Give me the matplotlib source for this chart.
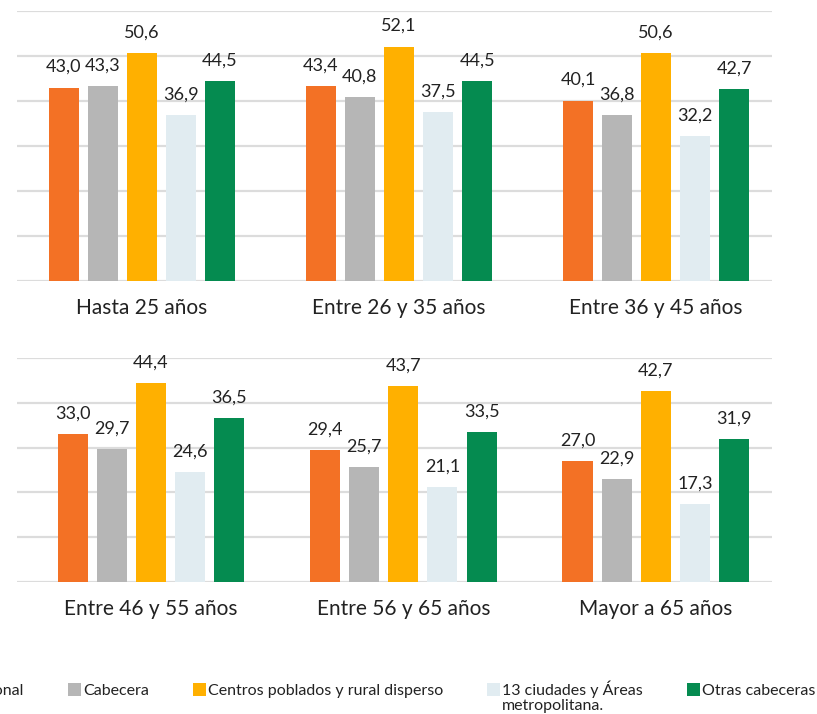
import numpy as np
import matplotlib
matplotlib.use('Agg')
import matplotlib.pyplot as plt

plt.rcParams['font.family'] = ['Lato', 'DejaVu Sans']

# datos
grupos_sup = ['Hasta 25 años', 'Entre 26 y 35 años', 'Entre 36 y 45 años']
grupos_inf = ['Entre 46 y 55 años', 'Entre 56 y 65 años', 'Mayor a 65 años']
series = ['Nacional', 'Cabecera', 'Centros poblados y rural disperso',
          '13 ciudades y Áreas\nmetropolitana.', 'Otras cabeceras']
nacional = [43.0, 43.4, 40.1, 33.0, 29.4, 27.0]
cabecera = [43.3, 40.8, 36.8, 29.7, 25.7, 22.9]
centros = [50.6, 52.1, 50.6, 44.4, 43.7, 42.7]
ciudades = [36.9, 37.5, 32.2, 24.6, 21.1, 17.3]
otras = [44.5, 44.5, 42.7, 36.5, 33.5, 31.9]
colores = ['#F37125', '#B6B6B6', '#FFB000', '#E1ECF1', '#058B50']

valores = [nacional, cabecera, centros, ciudades, otras]

fig = plt.figure(figsize=(8.17, 7.14), dpi=100)
ax1 = fig.add_axes([0.0208, 0.6064, 0.924, 0.3782])
ax2 = fig.add_axes([0.0208, 0.1849, 0.924, 0.3137])

def dibujar(ax, grupos, idx, ymax, xlim, ancho, paso):
    x = np.arange(len(grupos))
    for k, vals in enumerate(valores):
        v = [vals[i] for i in idx]
        xs = x + (k - 2) * paso
        # solo la primera linea del nombre va en la leyenda
        ax.bar(xs, v, width=ancho, color=colores[k], zorder=3,
               label=series[k].split('\n')[0])
        for xi, vi in zip(xs, v):
            ax.annotate(f'{vi:.1f}'.replace('.', ','), (xi, vi), xytext=(0, 9),
                        textcoords='offset points', ha='center', va='bottom',
                        fontsize=13, color='#222222')
    ax.set_ylim(0, ymax)
    ax.set_xlim(*xlim)
    ax.set_yticks(np.arange(0, ymax + 1, 10))
    ax.yaxis.grid(True, color='#dcdcdc', linewidth=1.6, zorder=0)
    ax.set_yticklabels([])
    ax.set_xticks(x)
    ax.set_xticklabels(grupos, fontsize=15, color='#222222')
    ax.tick_params(length=0, pad=12)
    for s in ['top', 'right', 'left', 'bottom']:
        ax.spines[s].set_visible(False)
    ax.set_axisbelow(True)

dibujar(ax1, grupos_sup, [0, 1, 2], 60, (-0.485, 2.45), 0.117, 0.152)
dibujar(ax2, grupos_inf, [3, 4, 5], 50, (-0.53, 2.46), 0.119, 0.155)

handles, labels = ax1.get_legend_handles_labels()
leg = fig.legend(handles, labels, loc='upper left', bbox_to_anchor=(-0.082, 0.067),
                 ncol=5, frameon=False, fontsize=11.5, handlelength=0.8,
                 handleheight=0.8, handletextpad=0.15, columnspacing=2.75,
                 labelcolor='#222222')

# segunda linea de "13 ciudades y Áreas metropolitana."
fig.canvas.draw()
bb = leg.get_texts()[3].get_window_extent().transformed(fig.transFigure.inverted())
fig.text(bb.x0, bb.y0 - 0.002, series[3].split('\n')[1], fontsize=11.5,
         color='#222222', ha='left', va='top')

fig.savefig('out.png', dpi=100)
